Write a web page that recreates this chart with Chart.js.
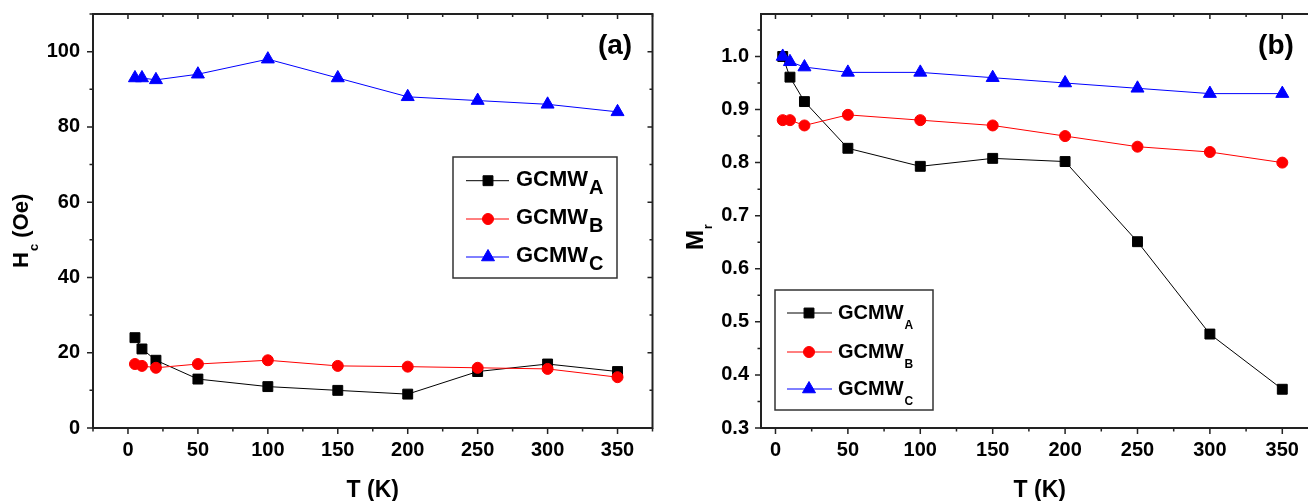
<!DOCTYPE html>
<html><head><meta charset="utf-8">
<script src="https://cdn.jsdelivr.net/npm/chart.js@4"></script>
<style>
html,body{margin:0;padding:0;background:#fff;overflow:hidden;width:1308px;height:501px;position:relative;}
#c1{position:absolute;left:0;top:0;}
#c2{position:absolute;left:654px;top:0;}
</style></head><body>
<canvas id="c1" width="661" height="501"></canvas>
<canvas id="c2" width="673" height="501"></canvas>
<script>
// ---- data ----
const temps = [5, 10, 20, 50, 100, 150, 200, 250, 300, 350];
const hcA = [24, 21, 18, 13, 11, 10, 9, 15, 17, 15];
const hcB = [17, 16.5, 16, 17, 18, 16.5, 16.3, 16, 15.7, 13.5];
const hcC = [93, 93, 92.5, 94, 98, 93, 88, 87, 86, 84];
const mrA = [1.0, 0.961, 0.915, 0.827, 0.793, 0.808, 0.802, 0.651, 0.477, 0.373];
const mrB = [0.88, 0.88, 0.87, 0.89, 0.88, 0.87, 0.85, 0.83, 0.82, 0.80];
const mrC = [1.0, 0.99, 0.98, 0.97, 0.97, 0.96, 0.95, 0.94, 0.93, 0.93];
const seriesName = 'GCMW';
const seriesSubs = ['A', 'B', 'C'];
const xMajor = [0, 50, 100, 150, 200, 250, 300, 350];
const xMinor = [-25, 25, 75, 125, 175, 225, 275, 325, 375];
const hcMajor = [0, 20, 40, 60, 80, 100];
const hcMinor = [10, 30, 50, 70, 90, 110];
const mrMajor = [0.3, 0.4, 0.5, 0.6, 0.7, 0.8, 0.9, 1.0];
const mrMinor = [0.35, 0.45, 0.55, 0.65, 0.75, 0.85, 0.95, 1.05];
const xTitle = 'T (K)';

const FONT = '"Liberation Sans", Arial, Helvetica, sans-serif';
const colors = ['#000000', '#ff0000', '#0000ff'];
const styles = ['rect', 'circle', 'triangle'];
const radii = [7, 5.5, 7.5];

function pts(ys){ return temps.map((t,i)=>({x:t, y:ys[i]})); }

function drawMarker(ctx, style, x, y, r, color){
  ctx.save();
  ctx.fillStyle = color; ctx.strokeStyle = color; ctx.lineWidth = 1;
  ctx.beginPath();
  if (style === 'rect'){ const s = r*Math.SQRT1_2; ctx.rect(x-s, y-s, 2*s, 2*s); }
  else if (style === 'circle'){ ctx.arc(x, y, r, 0, Math.PI*2); }
  else { for (let k=0;k<3;k++){ const a = k*2*Math.PI/3; const px = x+Math.sin(a)*r, py = y-Math.cos(a)*r; if(k===0) ctx.moveTo(px,py); else ctx.lineTo(px,py);} ctx.closePath(); }
  ctx.fill(); ctx.stroke();
  ctx.restore();
}

function subText(ctx, x, y, main, sub, mainFont, subFont, dy){
  ctx.font = mainFont; ctx.fillText(main, x, y);
  const w = ctx.measureText(main).width;
  ctx.font = subFont; ctx.fillText(sub, x + w + 1, y + dy);
  return w + 1 + ctx.measureText(sub).width;
}

function decor(cfg){
  return {
    id: 'decor',
    afterDraw(chart){
      const ctx = chart.ctx, a = chart.chartArea, xs = chart.scales.x, ys = chart.scales.y;
      const xmin = xs.min, xmax = xs.max;
      ctx.save();
      ctx.strokeStyle = '#222'; ctx.lineWidth = 1.5;
      ctx.beginPath();
      xMajor.forEach(v=>{ const p = xs.getPixelForValue(v); ctx.moveTo(p, a.bottom); ctx.lineTo(p, a.bottom+6); ctx.moveTo(p, a.top); ctx.lineTo(p, a.top+5); });
      xMinor.filter(v=>v>=xmin && v<=xmax).forEach(v=>{ const p = xs.getPixelForValue(v); ctx.moveTo(p, a.bottom); ctx.lineTo(p, a.bottom+3.5); ctx.moveTo(p, a.top); ctx.lineTo(p, a.top+3); });
      cfg.yMajor.forEach(v=>{ const p = ys.getPixelForValue(v); ctx.moveTo(a.left-6, p); ctx.lineTo(a.left, p); ctx.moveTo(a.right, p); ctx.lineTo(a.right-5, p); });
      cfg.yMinor.forEach(v=>{ const p = ys.getPixelForValue(v); ctx.moveTo(a.left-3.5, p); ctx.lineTo(a.left, p); ctx.moveTo(a.right, p); ctx.lineTo(a.right-3, p); });
      ctx.stroke();
      ctx.lineWidth = 2;
      ctx.strokeRect(a.left, a.top, a.right-a.left, a.bottom-a.top);

      ctx.fillStyle = '#000';
      ctx.font = 'bold 23px ' + FONT; ctx.textAlign = 'center'; ctx.textBaseline = 'alphabetic';
      ctx.fillText(xTitle, (a.left+a.right)/2, 497);
      ctx.font = 'bold 28px ' + FONT;
      ctx.fillText(cfg.panel, cfg.panelX, 54);
      ctx.save();
      ctx.translate(cfg.yt.x, cfg.yt.y); ctx.rotate(-Math.PI/2);
      ctx.textAlign = 'left';
      const w = subText(ctx, 0, 0, cfg.yt.main, cfg.yt.sub, 'bold '+cfg.yt.size+'px '+FONT, 'bold '+cfg.yt.subSize+'px '+FONT, cfg.yt.dy);
      if (cfg.yt.rest){ ctx.font = 'bold '+cfg.yt.size+'px '+FONT; ctx.fillText(cfg.yt.rest, w, 0); }
      ctx.restore();
      const L = cfg.legend;
      ctx.lineWidth = 1.5; ctx.strokeStyle = '#333';
      ctx.strokeRect(L.x, L.y, L.w, L.h);
      ctx.textAlign = 'left';
      seriesSubs.forEach((s, i)=>{
        const ry = L.rows[i];
        ctx.strokeStyle = colors[i]; ctx.lineWidth = 1;
        ctx.beginPath(); ctx.moveTo(L.lx0, ry); ctx.lineTo(L.lx1, ry); ctx.stroke();
        drawMarker(ctx, styles[i], L.mx, ry, radii[i], colors[i]);
        ctx.fillStyle = '#000';
        subText(ctx, L.tx, ry + L.bo, seriesName, s, 'bold '+L.size+'px '+FONT, 'bold '+L.subSize+'px '+FONT, L.dy);
      });
      ctx.restore();
    }
  };
}

function zeroPad(s){ s.paddingLeft = 0; s.paddingRight = 0; s.paddingTop = 0; s.paddingBottom = 0; }

function makeChart(id, series, yMin, yMax, yMajor, yMinor, xMin, xMax, yWidth, yPad, yFmt, cfg){
  const datasets = series.map((ys, i)=>({
    label: seriesName + seriesSubs[i],
    data: pts(ys),
    borderColor: colors[i], backgroundColor: colors[i],
    borderWidth: 1, pointStyle: styles[i], pointRadius: radii[i],
    pointBorderColor: colors[i], pointBackgroundColor: colors[i], pointBorderWidth: 1,
    order: 3 - i, tension: 0
  }));
  cfg.yMajor = yMajor; cfg.yMinor = yMinor;
  return new Chart(document.getElementById(id), {
    type: 'line',
    data: { datasets },
    options: {
      responsive: false, animation: false, events: [],
      layout: { padding: { top: 14, right: 2, left: 0, bottom: 0 } },
      plugins: { legend: { display: false }, tooltip: { enabled: false } },
      scales: {
        x: {
          type: 'linear', min: xMin, max: xMax,
          afterBuildTicks: s => { s.ticks = xMajor.map(v=>({value: v})); },
          afterFit: s => { s.height = 73; zeroPad(s); },
          grid: { display: true, drawOnChartArea: false, drawTicks: true, tickLength: 6, color: 'rgba(0,0,0,0)' },
          border: { display: false },
          ticks: { color: '#000', font: { family: FONT, size: 20, weight: 'bold' }, padding: 4, maxRotation: 0, autoSkip: false }
        },
        y: {
          type: 'linear', min: yMin, max: yMax,
          afterBuildTicks: s => { s.ticks = yMajor.map(v=>({value: v})); },
          afterFit: s => { s.width = yWidth; zeroPad(s); },
          grid: { display: true, drawOnChartArea: false, drawTicks: true, tickLength: 6, color: 'rgba(0,0,0,0)' },
          border: { display: false },
          ticks: { color: '#000', font: { family: FONT, size: 20, weight: 'bold' }, padding: yPad, autoSkip: false, callback: yFmt }
        }
      }
    },
    plugins: [decor(cfg)]
  });
}

makeChart('c1', [hcA, hcB, hcC], 0, 110, hcMajor, hcMinor, -25, 375, 93, 7, v => String(v), {
  panel: '(a)', panelX: 615,
  yt: { x: 27.5, y: 268, main: 'H', sub: 'c', rest: ' (Oe)', size: 22, subSize: 13, dy: 10 },
  legend: { x: 453, y: 157, w: 164, h: 121, rows: [180.7, 219, 257], lx0: 466, lx1: 509, mx: 488, tx: 516, bo: 5, size: 22, subSize: 20, dy: 8 }
});

makeChart('c2', [mrA, mrB, mrC], 0.3, 1.08, mrMajor, mrMinor, -10, 375, 107, 6, v => Number(v).toFixed(1), {
  panel: '(b)', panelX: 1276 - 654,
  yt: { x: 49.3, y: 250, main: 'M', sub: 'r', rest: '', size: 24, subSize: 12, dy: 8.5 },
  legend: { x: 121, y: 290, w: 158, h: 120, rows: [313, 352, 389], lx0: 133, lx1: 178, mx: 155, tx: 184, bo: 5.5, size: 20, subSize: 12, dy: 10 }
});
</script>
</body></html>
